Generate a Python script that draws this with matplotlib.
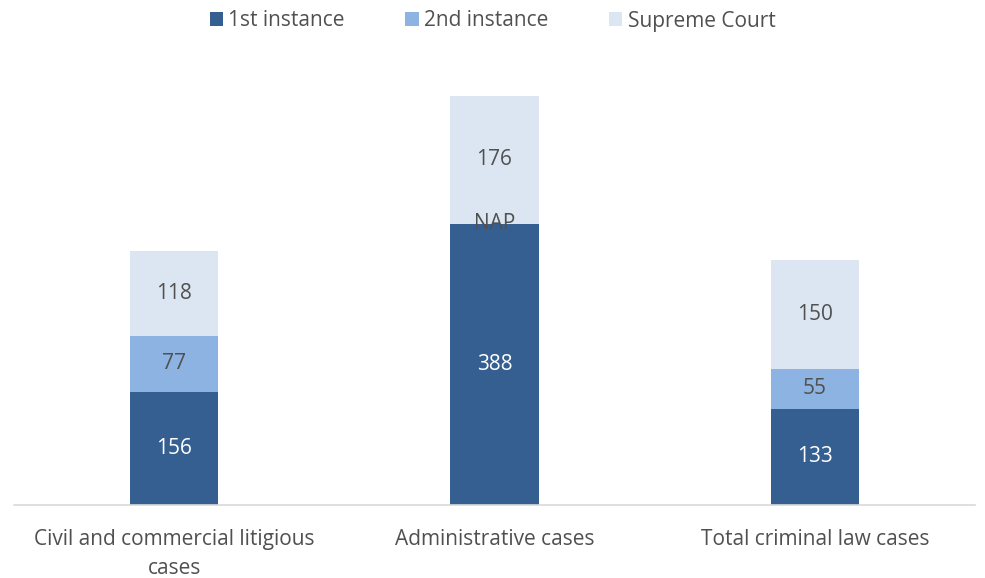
import matplotlib.pyplot as plt
import numpy as np

# Data
categories = ["Civil and commercial litigious\ncases", "Administrative cases", "Total criminal law cases"]
first_instance = [156, 388, 133]
second_instance = [77, 0, 55]
supreme_court = [118, 176, 150]
second_labels = ["77", "NAP", "55"]

plt.rcParams['font.family'] = ['Open Sans', 'DejaVu Sans']

c1 = "#365F91"
c2 = "#8DB3E2"
c3 = "#DCE6F2"
txt = "#505050"
fs = 15

fig = plt.figure(figsize=(9.85, 5.78), dpi=100)
ax = fig.add_axes([14 / 985, 1 - 505 / 578, (975 - 14) / 985, 435 / 578])

x = np.arange(len(categories))
w = 0.275
b1 = ax.bar(x, first_instance, w, color=c1, label="1st instance")
b2 = ax.bar(x, second_instance, w, bottom=first_instance, color=c2, label="2nd instance")
bottom3 = [a + b for a, b in zip(first_instance, second_instance)]
b3 = ax.bar(x, supreme_court, w, bottom=bottom3, color=c3, label="Supreme Court")

# segment labels
for i in range(len(categories)):
    ax.text(x[i], first_instance[i] / 2, str(first_instance[i]), ha="center", va="center",
            color="white", fontsize=fs)
    ax.text(x[i], first_instance[i] + second_instance[i] / 2, second_labels[i], ha="center",
            va="center", color=txt, fontsize=fs)
    ax.text(x[i], bottom3[i] + supreme_court[i] / 2, str(supreme_court[i]), ha="center",
            va="center", color=txt, fontsize=fs)

ax.set_xlim(-0.5, 2.5)
ax.set_ylim(0, 600)
ax.set_yticks([])
ax.set_xticks(x)
ax.set_xticklabels(categories, fontsize=fs, color=txt, linespacing=1.5)
ax.tick_params(axis="x", length=0, pad=17)
for s in ["top", "right", "left"]:
    ax.spines[s].set_visible(False)
ax.spines["bottom"].set_color("#D9D9D9")
ax.spines["bottom"].set_linewidth(1.2)

leg = fig.legend(handles=[b1, b2, b3], loc="center", bbox_to_anchor=(0.5, 1 - 21 / 578),
                 ncol=3, frameon=False, fontsize=fs, handlelength=0.65, handleheight=0.65,
                 handletextpad=0.25, columnspacing=2.9)
for t in leg.get_texts():
    t.set_color(txt)

fig.savefig("out.png", dpi=100)
